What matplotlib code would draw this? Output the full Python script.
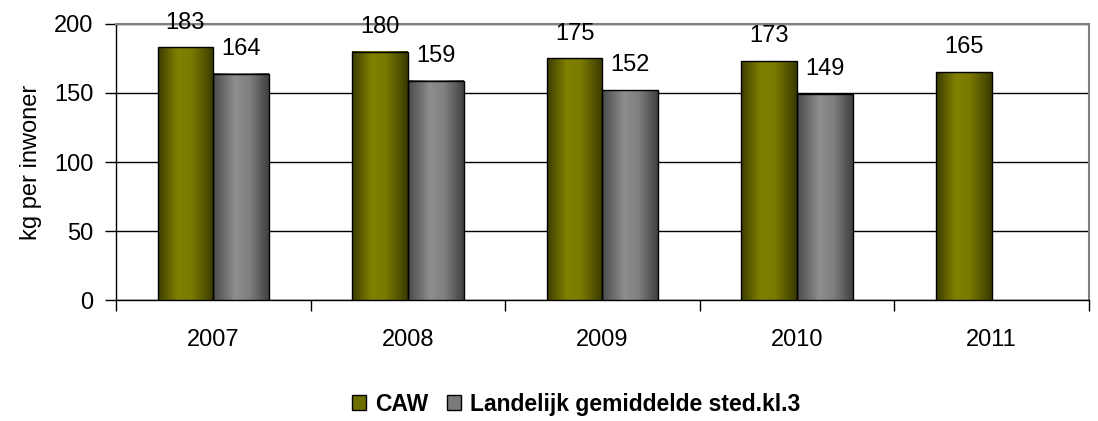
import numpy as np
import matplotlib.pyplot as plt
from matplotlib.colors import LinearSegmentedColormap
from matplotlib.patches import Rectangle

plt.rcParams["font.family"] = ["Liberation Sans", "DejaVu Sans"]

years = ["2007", "2008", "2009", "2010", "2011"]
caw = [183, 180, 175, 173, 165]
landelijk = [164, 159, 152, 149, None]
series_names = ["CAW", "Landelijk gemiddelde sted.kl.3"]

olive_cmap = LinearSegmentedColormap.from_list(
    "olive", [(0.0, "#3c3c00"), (0.35, "#808000"), (0.6, "#7a7a00"), (1.0, "#3a3a00")])
gray_cmap = LinearSegmentedColormap.from_list(
    "gray", [(0.0, "#4a4a4a"), (0.4, "#8e8e8e"), (0.65, "#808080"), (1.0, "#404040")])

fig = plt.figure(figsize=(10.98, 4.21), dpi=100)
ax = fig.add_axes([0.1056, 0.2874, 0.8862, 0.6556])

x = np.arange(len(years))
w = 0.286
grad = np.linspace(0, 1, 256).reshape(1, -1)


def gradient_bars(xpos, vals, cmap):
    vals_plot = [v if v is not None else 0 for v in vals]
    bars = ax.bar(xpos, vals_plot, width=w, facecolor="none",
                  edgecolor="black", linewidth=1.0, zorder=4)
    for b, v in zip(bars, vals):
        if v is None:
            b.set_visible(False)
            continue
        x0, bw, h = b.get_x(), b.get_width(), b.get_height()
        ax.imshow(grad, cmap=cmap, aspect="auto", extent=(x0, x0 + bw, 0, h),
                  zorder=3, interpolation="bicubic")
        ax.annotate(str(v), (x0 + bw / 2, h), xytext=(0, 10),
                    textcoords="offset points", ha="center", va="bottom",
                    fontsize=17, annotation_clip=False, zorder=5)
    return bars


gradient_bars(x - w / 2, caw, olive_cmap)
gradient_bars(x + w / 2, landelijk, gray_cmap)

ax.set_xlim(-0.5, len(years) - 0.5)
ax.set_ylim(0, 200)
ax.set_yticks([0, 50, 100, 150, 200])
ax.tick_params(axis="y", labelsize=17, length=8, width=1, direction="out", pad=8)
ax.set_xticks(x)
ax.set_xticklabels(years)
ax.set_xticks(np.arange(-0.5, len(years), 1), minor=True)
ax.tick_params(axis="x", which="major", length=0, labelsize=17, pad=21)
ax.tick_params(axis="x", which="minor", length=8, width=1, direction="out")
ax.grid(axis="y", color="black", linewidth=1, zorder=1)
ax.set_axisbelow(True)
ax.set_ylabel("kg per inwoner", fontsize=17, labelpad=9)

for s in ["left", "bottom"]:
    ax.spines[s].set_color("black")
    ax.spines[s].set_linewidth(1)
for s in ["top", "right"]:
    ax.spines[s].set_color("#808080")
    ax.spines[s].set_linewidth(1.5)

handles = [Rectangle((0, 0), 1, 1, facecolor="#6e6e00", edgecolor="black"),
           Rectangle((0, 0), 1, 1, facecolor="#7a7a7a", edgecolor="black")]
fig.legend(handles, series_names, loc="center", bbox_to_anchor=(0.525, 0.04),
           ncol=2, frameon=False, prop={"weight": "bold", "size": 16.5},
           handlelength=0.62, handleheight=0.62, handletextpad=0.4,
           columnspacing=0.8, borderpad=0.1)

fig.savefig("out.png", dpi=100)
